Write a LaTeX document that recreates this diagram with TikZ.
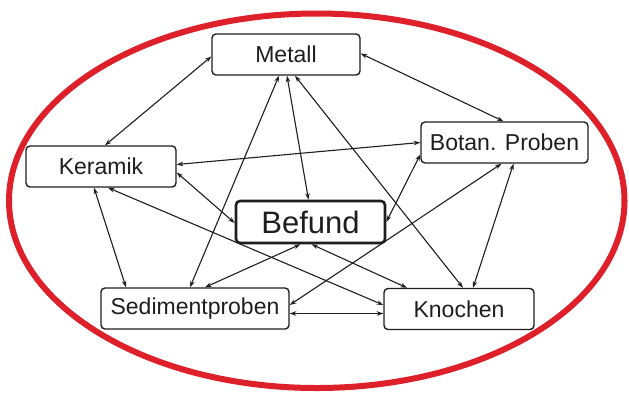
\documentclass[tikz,border=0pt]{standalone}
\usepackage{fontspec}
\setmainfont{Liberation Sans}
\usetikzlibrary{arrows.meta}
\definecolor{ringred}{RGB}{222,32,42}
\definecolor{ink}{RGB}{30,30,30}
\begin{document}
\begin{tikzpicture}[x=1bp,y=-1bp,
  box/.style={draw=ink, line width=1.4bp, rounded corners=4bp, fill=white, inner sep=0pt,
    minimum height=41bp, text=ink, font=\fontsize{23bp}{26bp}\selectfont},
  mainbox/.style={box, line width=2.6bp, minimum height=42bp, font=\fontsize{31bp}{34bp}\selectfont},
  link/.style={{Stealth[length=6.5bp,width=4.5bp]}-{Stealth[length=6.5bp,width=4.5bp]}, line width=1.1bp, draw=ink}
]
\useasboundingbox (0,0) rectangle (629,394);
\fill[white] (0,0) rectangle (629,394);
\draw[ringred, line width=6bp] (316.75,200.75) ellipse [x radius=307.75, y radius=187.25];

\node[box, minimum width=148bp] (metall) at (286,54.5) {Metall};
\node[box, minimum width=167bp] (botan) at (504.5,142.5) {Botan. Proben};
\node[box, minimum width=150bp] (keramik) at (101,166.5) {Keramik};
\node[mainbox, minimum width=149bp] (befund) at (310.5,222) {Befund};
\node[box, minimum width=188bp] (sediment) at (195,308.5) {Sedimentproben};
\node[box, minimum width=150bp] (knochen) at (459,309) {Knochen};

\draw[link] ([yshift=-2bp]metall.west) -- ([xshift=4bp]keramik.north);
\draw[link] ([yshift=1bp]metall.east) -- ([xshift=-1bp]botan.north);
\draw[link] ([xshift=-7bp]metall.south) -- ([xshift=-5bp]sediment.north);
\draw[link] ([xshift=1bp]metall.south) -- ([xshift=-2bp]befund.north);
\draw[link] ([xshift=9bp]metall.south) -- ([xshift=4bp]knochen.north);
\draw[link] ([yshift=2bp]keramik.east) -- (botan.west);
\draw[link] ([yshift=-6bp]keramik.east) -- ([yshift=-1bp]befund.west);
\draw[link] ([xshift=-7bp]keramik.south) -- ([xshift=-69bp]sediment.north);
\draw[link] ([xshift=7bp]keramik.south) -- ([yshift=4bp]knochen.west);
\draw[link] ([yshift=-12bp]botan.west) -- (befund.east);
\draw[link] ([xshift=-3bp]botan.south) -- ([yshift=3.5bp]sediment.east);
\draw[link] ([xshift=9bp]botan.south) -- ([xshift=14bp]knochen.north);
\draw[link] ([xshift=-10bp]befund.south) -- ([xshift=10bp]sediment.north);
\draw[link] ([xshift=1bp]befund.south) -- ([xshift=-52bp]knochen.north);
\draw[link] ([yshift=-5bp]sediment.east) -- ([yshift=-4.5bp]knochen.west);
\end{tikzpicture}
\end{document}
